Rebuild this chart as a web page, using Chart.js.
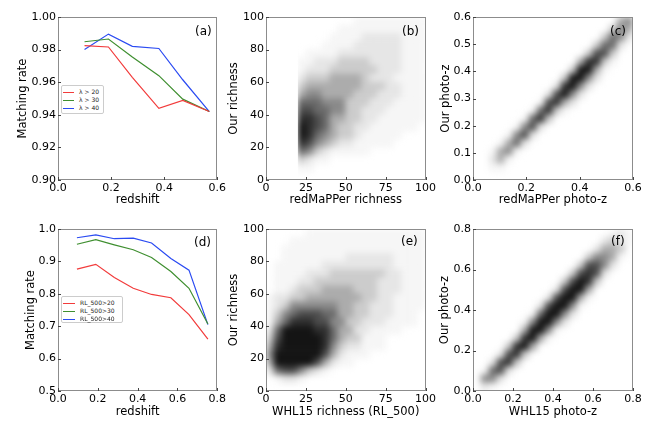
<!DOCTYPE html>
<html>
<head>
<meta charset="utf-8">
<script src="https://cdn.jsdelivr.net/npm/chart.js@4.4.1/dist/chart.umd.min.js"></script>
<style>
  body { margin: 0; background: #fff; width: 664px; height: 434px; position: relative; overflow: hidden; font-family: "DejaVu Sans", sans-serif; }
  canvas { position: absolute; }
  .tag { position: absolute; font-size: 12px; line-height: 12px; color: #000; }
  .legend { position: absolute; border: 1px solid #ccc; border-radius: 2px; background: #fff; font-size: 6px; line-height: 8px; padding-top: 2px; box-sizing: border-box; color: #222; }
  .legend div { position: relative; height: 8px; white-space: nowrap; }
  .legend span { position: absolute; top: 4px; height: 1.3px; }
  .legend b { position: absolute; font-weight: normal; top: 0; }
</style>
</head>
<body>
<canvas id="ca" width="228" height="215" style="left:0;top:0"></canvas>
<canvas id="cb" width="214" height="215" style="left:224px;top:0"></canvas>
<canvas id="cc" width="228" height="215" style="left:436px;top:0"></canvas>
<canvas id="cd" width="228" height="219" style="left:0;top:215px"></canvas>
<canvas id="ce" width="214" height="219" style="left:224px;top:215px"></canvas>
<canvas id="cf" width="228" height="219" style="left:436px;top:215px"></canvas>

<div class="tag" style="left:195px;top:25px">(a)</div>
<div class="tag" style="left:402px;top:25px">(b)</div>
<div class="tag" style="left:610px;top:25px">(c)</div>
<div class="tag" style="left:194px;top:236px">(d)</div>
<div class="tag" style="left:401px;top:235px">(e)</div>
<div class="tag" style="left:611px;top:235px">(f)</div>

<div class="legend" id="legA" style="left:61px;top:85px;width:43px;height:29px"></div>
<div class="legend" id="legD" style="left:61px;top:296px;width:62px;height:27px"></div>

<script>
// panel (a): matching rate vs redMaPPer, by lambda cut
const redshiftA = [0.10, 0.19, 0.28, 0.38, 0.47, 0.57];
const rateLam20 = [0.9824, 0.9816, 0.963, 0.944, 0.9488, 0.942];
const rateLam30 = [0.9848, 0.9865, 0.9755, 0.964, 0.9496, 0.942];
const rateLam40 = [0.980, 0.9895, 0.982, 0.9807, 0.9615, 0.942];
const labelsA = ['\u03bb > 20', '\u03bb > 30', '\u03bb > 40'];

// panel (d): matching rate vs WHL15, by RL_500 cut
const redshiftD = [0.095, 0.19, 0.283, 0.378, 0.47, 0.567, 0.658, 0.753];
const rateRL20 = [0.876, 0.891, 0.850, 0.817, 0.798, 0.788, 0.736, 0.660];
const rateRL30 = [0.953, 0.967, 0.951, 0.936, 0.912, 0.869, 0.817, 0.707];
const rateRL40 = [0.973, 0.982, 0.970, 0.972, 0.957, 0.909, 0.873, 0.705];
const labelsD = ['RL_500>20', 'RL_500>30', 'RL_500>40'];

// scatter clouds read as 20x20 density grids, top row first, digit = darkness 0..9
// (b) redMaPPer richness (0-100) vs our richness (0-100)
const densityB = [
  "00000000000111111111",
  "00000000011111111111",
  "00000000111122222111",
  "00000001111222222111",
  "00000111122222222111",
  "00001122233332222111",
  "00001222333333222111",
  "00002333444432221111",
  "00003444444433322111",
  "00004554444333222111",
  "00006665553332221111",
  "00007766553322211111",
  "00008876443322111111",
  "00009876433221111110",
  "00009865433211111000",
  "00008754322111110000",
  "00006532111110000000",
  "00003211000000000000",
  "00001100000000000000",
  "00000000000000000000"
];
// (c) redMaPPer photo-z (0-0.6) vs our photo-z (0-0.6)
const densityC = [
  "00000000000000000045",
  "00000000000000000354",
  "00000000000000003652",
  "00000000000000036620",
  "00000000000000377300",
  "00000000000004883100",
  "00000000000039941000",
  "00000000000399520000",
  "00000000002895200000",
  "00000000027952000000",
  "00000000178420000000",
  "00000001683100000000",
  "00000016830000000000",
  "00000157200000000000",
  "00001572000000000000",
  "00014620000000000000",
  "00145100000000000000",
  "00241000000000000000",
  "00110000000000000000",
  "00000000000000000000"
];
// (e) WHL15 richness (0-100) vs our richness (0-100)
const densityE = [
  "00000111111111111111",
  "00011111111111111111",
  "00111111111111111111",
  "00111111112222221111",
  "01111112222222221111",
  "01111222333333322111",
  "01112233333333222111",
  "01123334444333222111",
  "12233444444433221111",
  "12355555544332221111",
  "13567776644332221110",
  "14688877553322211110",
  "26999988644221111000",
  "37999998643311100000",
  "48999998532211100000",
  "59999997421110000000",
  "49999974211000000000",
  "26775321000000000000",
  "01221000000000000000",
  "00000000000000000000"
];
// (f) WHL15 photo-z (0-0.8) vs our photo-z (0-0.8)
const densityF = [
  "00000000000000000121",
  "00000000000000002321",
  "00000000000000024430",
  "00000000000000355410",
  "00000000000003775200",
  "00000000000037872000",
  "00000000000379830000",
  "00000000002799400000",
  "00000000027994100000",
  "00000000279951000000",
  "00000001699520000000",
  "00000015995200000000",
  "00000049951000000000",
  "00000389410000000000",
  "00003894000000000000",
  "00027830000000000000",
  "00278300000000000000",
  "01672000000000000000",
  "05520000000000000000",
  "02100000000000000000"
];

const RED = '#f23b3b', GREEN = '#3f8f30', BLUE = '#2b4bf2';
const greyLevels = [255, 246, 230, 204, 172, 138, 106, 76, 46, 20];

Chart.defaults.font.family = '"DejaVu Sans", sans-serif';
Chart.defaults.font.size = 11;
Chart.defaults.color = '#000';
Chart.defaults.animation = false;

// matplotlib-like frame with inward ticks
const framePlugin = {
  id: 'frame',
  afterDraw(chart) {
    const a = chart.chartArea, ctx = chart.ctx;
    ctx.save();
    ctx.strokeStyle = '#8c8c8c';
    ctx.lineWidth = 1;
    ctx.strokeRect(Math.round(a.left) + 0.5, Math.round(a.top) + 0.5, Math.round(a.right - a.left) - 1, Math.round(a.bottom - a.top) - 1);
    ctx.strokeStyle = '#444';
    const xs = chart.scales.x, ys = chart.scales.y;
    xs.ticks.forEach(t => {
      const p = Math.round(xs.getPixelForValue(t.value)) + 0.5;
      ctx.beginPath(); ctx.moveTo(p, a.bottom); ctx.lineTo(p, a.bottom - 3); ctx.stroke();
    });
    ys.ticks.forEach(t => {
      const p = Math.round(ys.getPixelForValue(t.value)) + 0.5;
      ctx.beginPath(); ctx.moveTo(a.left, p); ctx.lineTo(a.left + 3, p); ctx.stroke();
    });
    ctx.restore();
  }
};

// blur the drawn density cells as one layer so the grid reads as a point cloud;
// with cutLeft the cloud keeps the sharp lower cut of the sample (first filled column)
const softPlugin = {
  id: 'soft',
  afterDatasetsDraw(chart, args, opts) {
    const { ctx, canvas, chartArea: a } = chart;
    const r = chart.currentDevicePixelRatio || 1;
    const x = a.left * r, y = a.top * r, w = (a.right - a.left) * r, h = (a.bottom - a.top) * r;
    let clipX = x;
    if (opts.cutLeft) {
      const pts = chart.data.datasets[0].data;
      const minX = Math.min.apply(null, pts.map(p => p.x - p.w / 2));
      clipX = chart.scales.x.getPixelForValue(minX) * r;
    }
    const tmp = document.createElement('canvas');
    tmp.width = canvas.width; tmp.height = canvas.height;
    tmp.getContext('2d').drawImage(canvas, x, y, w, h, x, y, w, h);
    ctx.save();
    ctx.setTransform(1, 0, 0, 1, 0, 0);
    ctx.fillStyle = '#fff'; ctx.fillRect(x, y, w, h);
    ctx.beginPath(); ctx.rect(clipX, y, x + w - clipX, h); ctx.clip();
    ctx.filter = 'blur(' + (3 * r) + 'px)';
    ctx.drawImage(tmp, 0, 0);
    ctx.restore();
  }
};

function axis(min, max, step, dec, title, fit, titlePad) {
  return {
    type: 'linear', min: min, max: max,
    ticks: { stepSize: step, autoSkip: false, maxRotation: 0, padding: 2, font: { size: 11 }, callback: v => Number(v).toFixed(dec) },
    grid: { display: false, drawTicks: false },
    border: { display: false },
    title: { display: true, text: title, font: { size: 11.5 }, padding: titlePad },
    afterFit: s => { if (s.isHorizontal()) s.height = fit; else s.width = fit; }
  };
}

function lineSet(label, xs, ys, color) {
  return {
    label: label, data: xs.map((x, i) => ({ x: x, y: ys[i] })),
    showLine: true, borderColor: color, borderWidth: 1.2, pointRadius: 0, tension: 0
  };
}

function cells(rows, xMax, yMax) {
  const cw = xMax / rows[0].length, ch = yMax / rows.length, pts = [];
  rows.forEach((row, r) => {
    for (let c = 0; c < row.length; c++) {
      const lv = +row[c];
      if (lv > 0) pts.push({ x: (c + 0.5) * cw, y: yMax - (r + 0.5) * ch, v: lv, w: cw, h: ch });
    }
  });
  return pts;
}

function cloudSet(rows, xMax, yMax) {
  return {
    data: cells(rows, xMax, yMax),
    pointStyle: 'rect', borderWidth: 0, pointBorderWidth: 0,
    pointBackgroundColor: ctx => {
      const g = ctx.raw ? greyLevels[ctx.raw.v] : 0;
      return 'rgb(' + g + ',' + g + ',' + g + ')';
    },
    pointRadius: ctx => {
      if (!ctx.raw) return 3;
      const s = ctx.chart.scales;
      const w = Math.abs(s.x.getPixelForValue(ctx.raw.w) - s.x.getPixelForValue(0));
      const h = Math.abs(s.y.getPixelForValue(ctx.raw.h) - s.y.getPixelForValue(0));
      return (Math.max(w, h) + 0.6) / Math.SQRT2;
    },
    pointHoverRadius: 0
  };
}

function makeChart(id, datasets, xAx, yAx, pad, soft) {
  return new Chart(document.getElementById(id), {
    type: 'scatter',
    data: { datasets: datasets },
    options: {
      responsive: false, animation: false,
      layout: { padding: pad },
      plugins: { legend: { display: false }, tooltip: { enabled: false }, soft: soft || {} },
      events: [],
      scales: { x: xAx, y: yAx }
    },
    plugins: soft ? [softPlugin, framePlugin] : [framePlugin]
  });
}

// row 1
makeChart('ca', [
  lineSet(labelsA[0], redshiftA, rateLam20, RED),
  lineSet(labelsA[1], redshiftA, rateLam30, GREEN),
  lineSet(labelsA[2], redshiftA, rateLam40, BLUE)
], axis(0, 0.6, 0.2, 1, 'redshift', 35, 8), axis(0.9, 1.0, 0.02, 2, 'Matching rate', 58, 16), { top: 17, right: 10 });

makeChart('cb', [cloudSet(densityB, 100, 100)],
  axis(0, 100, 25, 0, 'redMaPPer richness', 35, 8), axis(0, 100, 20, 0, 'Our richness', 42, 3), { top: 17, right: 12 }, { cutLeft: true });

makeChart('cc', [cloudSet(densityC, 0.6, 0.6)],
  axis(0, 0.6, 0.2, 1, 'redMaPPer photo-z', 35, 8), axis(0, 0.6, 0.1, 1, 'Our photo-z', 37, 3), { top: 17, right: 31 }, { cutLeft: false });

// row 2
makeChart('cd', [
  lineSet(labelsD[0], redshiftD, rateRL20, RED),
  lineSet(labelsD[1], redshiftD, rateRL30, GREEN),
  lineSet(labelsD[2], redshiftD, rateRL40, BLUE)
], axis(0, 0.8, 0.2, 1, 'redshift', 43, 15), axis(0.5, 1.0, 0.1, 1, 'Matching rate', 58, 24), { top: 14, right: 10 });

makeChart('ce', [cloudSet(densityE, 100, 100)],
  axis(0, 100, 25, 0, 'WHL15 richness (RL_500)', 43, 15), axis(0, 100, 20, 0, 'Our richness', 42, 3), { top: 14, right: 12 }, { cutLeft: false });

makeChart('cf', [cloudSet(densityF, 0.8, 0.8)],
  axis(0, 0.8, 0.2, 1, 'WHL15 photo-z', 43, 15), axis(0, 0.8, 0.2, 1, 'Our photo-z', 37, 2), { top: 14, right: 31 }, { cutLeft: false });

// html legends
function fillLegend(id, labels, lineW, textX) {
  const box = document.getElementById(id);
  [RED, GREEN, BLUE].forEach((col, i) => {
    const row = document.createElement('div');
    row.innerHTML = '<span style="left:1px;width:' + lineW + 'px;background:' + col + '"></span><b style="left:' + textX + 'px">' + labels[i] + '</b>';
    box.appendChild(row);
  });
}
fillLegend('legA', labelsA, 11, 17);
fillLegend('legD', labelsD, 12, 18);
</script>
</body>
</html>
